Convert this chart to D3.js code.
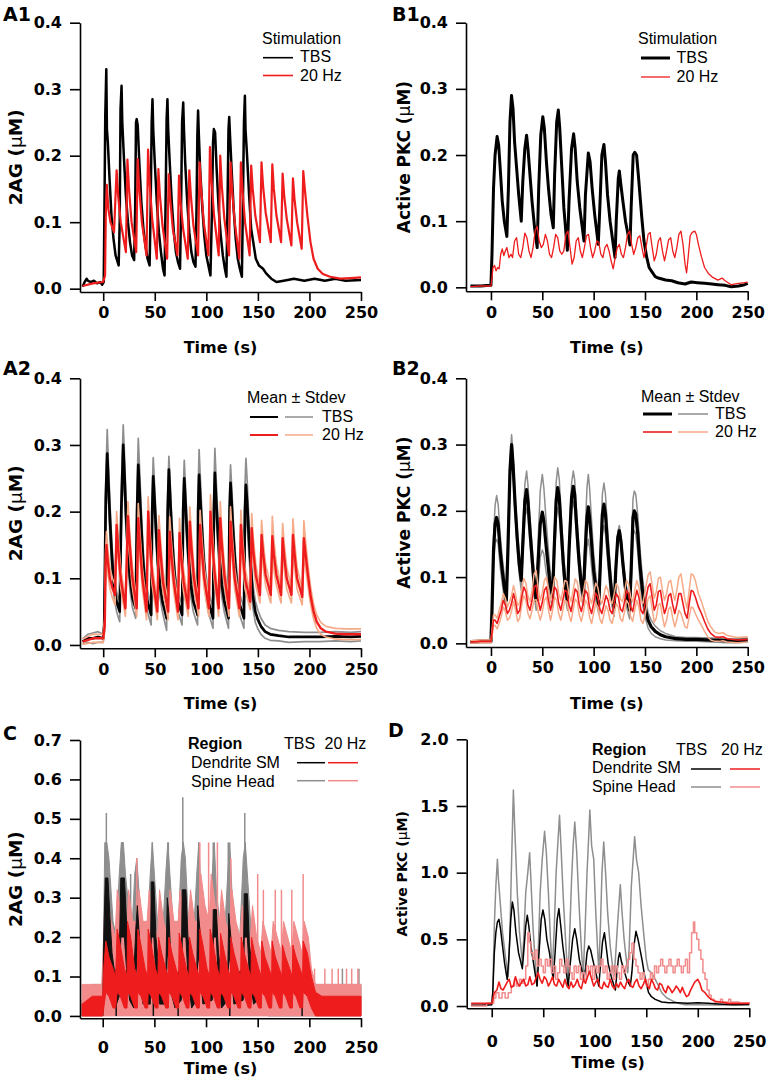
<!DOCTYPE html>
<html>
<head>
<meta charset='utf-8'>
<title>2AG and PKC responses</title>
<script src='https://cdn.jsdelivr.net/npm/d3@7'></script>
<style>
  body { margin: 0; background: #fff; }
  svg { display: block; }
</style>
</head>
<body>
<svg width='769' height='1079'></svg>
<script>
// ---------- data ----------
const timeTicks = [0, 50, 100, 150, 200, 250]
const ticksConc = [0, 0.1, 0.2, 0.3, 0.4]
const ticksC = [0, 0.1, 0.2, 0.3, 0.4, 0.5, 0.6, 0.7]
const ticksD = [0, 0.5, 1.0, 1.5, 2.0]

// A1: 2AG, single trials [t, value]
const a1TBS = [[-20,0.003],[-18,0.01],[-16,0.015],[-15,0.012],[-12,0.01],[-9,0.012],[-6,0.008],[-3,0.01],[-1,0.006],[0.5,0.01],
  [1.2,0.12],[2,0.26],[3,0.33],[3.6,0.24],[4.5,0.22],[6,0.17],[8,0.11],[10,0.075],[12,0.05],[15,0.035],
  [16,0.1],[16.8,0.27],[17.8,0.305],[18.5,0.25],[20,0.2],[22,0.14],[24,0.1],[26,0.07],[28,0.05],[30,0.043],
  [31,0.12],[31.8,0.25],[32.5,0.255],[33.5,0.245],[35,0.19],[37,0.13],[39,0.09],[41,0.065],[43,0.045],[45,0.035],
  [46,0.12],[47,0.25],[47.8,0.285],[48.5,0.24],[50,0.19],[52,0.13],[54,0.085],[56,0.055],[58,0.03],[59.5,0.02],
  [60.5,0.13],[61.5,0.255],[62.3,0.285],[63,0.24],[64.5,0.19],[66.5,0.13],[68.5,0.085],[70.5,0.055],[72.5,0.04],[74.5,0.03],
  [75.5,0.12],[76.5,0.25],[77.6,0.28],[78.3,0.24],[79.5,0.19],[81.5,0.13],[83.5,0.085],[85.5,0.055],[87.5,0.04],[89.5,0.033],
  [90.5,0.12],[91.3,0.23],[92,0.268],[92.8,0.23],[94,0.18],[96,0.125],[98,0.08],[100,0.05],[102,0.035],[104,0.02],
  [105.5,0.12],[106.5,0.22],[107.3,0.24],[108.5,0.235],[110,0.18],[112,0.12],[114,0.08],[116,0.05],[118,0.03],[119.5,0.018],
  [120.5,0.12],[121.5,0.24],[122.2,0.258],[123,0.23],[124.5,0.18],[126.5,0.12],[128.5,0.075],[130.5,0.045],[132.5,0.03],[134.5,0.018],
  [135.5,0.13],[136.5,0.25],[137.4,0.29],[138,0.24],[139.5,0.2],[141.5,0.14],[143.5,0.09],[145.5,0.07],[148,0.045],[151,0.035],
  [155,0.03],[158,0.023],[163,0.015],[168,0.01],[175,0.012],[185,0.015],[195,0.012],[205,0.015],[215,0.012],[225,0.015],[235,0.012],[250,0.013]]

const a1Hz20 = [[-20,0.004],[-10,0.008],[0,0.01],[1.8,0.02],[2.5,0.11],[3.5,0.156],[5,0.12],[7,0.1],[10.5,0.085],
  [13,0.178],[14.5,0.14],[17,0.1],[22,0.055],
  [23.5,0.194],[25,0.15],[27.5,0.1],[32,0.055],
  [33.5,0.195],[35,0.15],[37.5,0.1],[42,0.05],
  [43.5,0.209],[45,0.16],[47.5,0.105],[52,0.045],
  [53.5,0.18],[55,0.14],[57.5,0.095],[62,0.045],
  [63.5,0.172],[65,0.135],[67.5,0.09],[72,0.05],
  [73.5,0.17],[75,0.13],[77.5,0.09],[82,0.045],
  [83.5,0.178],[85,0.14],[87.5,0.095],[92,0.05],
  [93.5,0.19],[95,0.15],[97.5,0.1],[102,0.05],
  [103.5,0.213],[105,0.165],[107.5,0.11],[112,0.05],
  [113.5,0.2],[115,0.155],[117.5,0.105],[122,0.05],
  [123.5,0.19],[125,0.15],[127.5,0.1],[132,0.045],
  [133.5,0.19],[135,0.15],[137.5,0.1],[142,0.05],
  [143.5,0.185],[145,0.15],[147.5,0.11],[152,0.07],
  [153.5,0.19],[155,0.155],[157.5,0.115],[162.5,0.07],
  [164,0.187],[165.5,0.15],[168,0.11],[172.5,0.07],
  [174,0.173],[175.5,0.14],[178,0.105],[182.5,0.065],
  [184,0.166],[185.5,0.135],[188,0.1],[192.5,0.06],
  [194,0.177],[195.5,0.15],[198,0.11],[201,0.07],[204,0.045],[208,0.03],[213,0.022],[220,0.018],[230,0.015],[240,0.016],[250,0.017]]

// B1: active PKC, single trials [t, value]
const b1TBS = [[-20,0.002],[-10,0.002],[-1,0.003],[0,0.003],[1,0.05],[2.5,0.15],[4,0.2],[6,0.228],[7.5,0.215],[9,0.18],[11,0.13],[13,0.1],[15.5,0.077],
  [17,0.15],[18.5,0.25],[20,0.29],[21.5,0.27],[23,0.22],[25,0.18],[27,0.14],[29.5,0.1],
  [31,0.16],[33,0.21],[34.7,0.23],[36,0.21],[38,0.17],[40,0.13],[42.5,0.09],[45,0.06],
  [46.5,0.15],[48.5,0.23],[50.5,0.258],[52,0.24],[54,0.19],[56,0.15],[58.5,0.11],[60.7,0.09],
  [62,0.17],[64,0.25],[65.6,0.268],[67,0.24],[69,0.18],[71,0.12],[74.4,0.056],
  [76,0.13],[78.5,0.21],[80.5,0.232],[82,0.21],[84,0.16],[86.5,0.12],[90.6,0.07],
  [92,0.14],[94.8,0.203],[96.5,0.19],[98.5,0.15],[101,0.11],[104.5,0.065],
  [106,0.12],[108,0.2],[110,0.216],[111.5,0.19],[113.5,0.14],[116,0.1],[120.8,0.045],
  [122,0.1],[124,0.165],[125,0.176],[126.5,0.155],[128.5,0.13],[131,0.1],[135.4,0.064],
  [136.5,0.12],[138.5,0.2],[140,0.204],[141.8,0.2],[143.5,0.17],[146.8,0.107],[149,0.07],[151.6,0.046],[154,0.03],[156.5,0.024],
  [160,0.016],[163,0.014],[170,0.011],[176,0.01],[182,0.007],[189,0.005],[195,0.008],[201,0.007],[208,0.006],[215,0.005],[221,0.004],[228,0.003],[234,0.001],[241,0.002],[247,0.004],[250,0.006]]

const b1Hz20 = [[-20,0.001],[-10,0.002],[0,0.002],[1,0.015],[2,0.03],[3.5,0.033],[5,0.025],[6.5,0.03],[8,0.028],[9.5,0.05],[11,0.058],[12.5,0.048],[14,0.055],[15.5,0.06],[17.5,0.045],[19.5,0.05],
  [21,0.045],[23,0.07],[25,0.075],[27,0.05],[29,0.045],[31,0.06],[33,0.082],[35,0.075],[37,0.055],[39,0.045],[41,0.06],[43,0.085],[45,0.092],[47,0.07],[49,0.06],
  [51,0.065],[53,0.08],[55,0.07],[57,0.05],[59,0.045],[61,0.06],[63,0.08],[65,0.075],[67,0.055],[69,0.05],[71,0.055],[73,0.08],[75,0.085],[77,0.06],[79,0.035],
  [81,0.045],[83,0.07],[85,0.075],[87,0.055],[89,0.045],[91,0.06],[93,0.078],[95,0.08],[97,0.06],[99,0.045],[101,0.055],[103,0.07],[105,0.068],[107,0.05],[109,0.045],
  [111,0.06],[113,0.065],[115,0.055],[117,0.04],[119,0.028],[121,0.045],[123,0.06],[125,0.065],[127,0.05],[129,0.045],[131,0.06],[133,0.08],[135,0.085],[137,0.065],[139,0.05],
  [141,0.06],[143,0.075],[145,0.078],[147,0.06],[149,0.045],[151,0.06],[153,0.08],[155,0.083],[157,0.06],[159,0.04],[161,0.05],[163,0.07],[165,0.075],[167,0.055],[169,0.04],
  [171,0.055],[173,0.072],[175,0.075],[177,0.055],[179,0.045],[181,0.06],[183,0.08],[185,0.085],[187,0.065],[189,0.035],[190.5,0.022],[192,0.045],[194,0.078],[196,0.083],[198.5,0.085],
  [200,0.08],[202,0.065],[205,0.046],[208,0.03],[211.7,0.021],[216,0.015],[221,0.011],[225,0.014],[228,0.01],[234,0.004],[241,0.006],[247,0.007],[250,0.008]]

// A2: 2AG mean and stdev [t, mean, sd]
const a2TBS = [[-20,0.005,0.004],[-15,0.01,0.006],[-10,0.01,0.008],[-5,0.012,0.008],[0,0.01,0.006],[1,0.03,0.01],
  [2.5,0.22,0.025],[3.9,0.287,0.036],[5,0.245,0.03],[6.5,0.19,0.025],[8.5,0.13,0.02],[10.5,0.09,0.017],[13,0.065,0.015],[16,0.05,0.015],
  [17.5,0.2,0.03],[19.4,0.3,0.03],[20.5,0.26,0.03],[22,0.2,0.025],[24,0.14,0.02],[26,0.1,0.018],[28.5,0.07,0.015],[31.5,0.055,0.015],
  [32.8,0.2,0.03],[34,0.27,0.04],[35,0.24,0.035],[36.5,0.19,0.028],[38.5,0.13,0.02],[40.5,0.09,0.018],[43,0.065,0.016],[46.5,0.045,0.015],
  [47.5,0.2,0.025],[48.5,0.253,0.028],[49.5,0.225,0.025],[51,0.18,0.022],[53,0.125,0.02],[55,0.09,0.018],[57.5,0.065,0.016],[61.5,0.04,0.018],
  [62.5,0.2,0.02],[63.7,0.263,0.02],[64.7,0.23,0.02],[66,0.185,0.02],[68,0.13,0.018],[70,0.09,0.016],[72.5,0.065,0.015],[76.5,0.045,0.015],
  [77.5,0.2,0.025],[78.6,0.25,0.027],[79.6,0.22,0.025],[81,0.175,0.022],[83,0.125,0.02],[85,0.09,0.018],[87.5,0.065,0.016],[91.5,0.045,0.015],
  [92,0.2,0.03],[93,0.255,0.038],[94,0.225,0.032],[95.5,0.18,0.026],[97.5,0.125,0.02],[99.5,0.09,0.018],[102,0.065,0.016],[106.5,0.04,0.015],
  [107.3,0.2,0.03],[108.3,0.258,0.037],[109.3,0.225,0.032],[111,0.175,0.025],[113,0.125,0.02],[115,0.09,0.018],[117.5,0.065,0.016],[121.5,0.04,0.015],
  [122.5,0.2,0.025],[123.5,0.243,0.027],[124.5,0.215,0.025],[126,0.17,0.022],[128,0.12,0.02],[130,0.085,0.018],[132.5,0.06,0.016],[136.5,0.04,0.015],
  [137.4,0.2,0.035],[138.4,0.24,0.04],[139.5,0.215,0.035],[141,0.17,0.028],[143,0.12,0.022],[145,0.075,0.018],[147.5,0.05,0.016],[150,0.038,0.014],
  [153,0.028,0.012],[157,0.02,0.01],[162,0.016,0.009],[170,0.014,0.008],[180,0.012,0.008],[195,0.012,0.007],[210,0.012,0.007],[225,0.013,0.007],[240,0.012,0.007],[250,0.013,0.007]]

const a2Hz20 = [[-20,0.005,0.004],[-10,0.01,0.006],[0,0.01,0.006],[1.5,0.03,0.01],[2.3,0.12,0.02],[3.2,0.15,0.02],[4.5,0.125,0.018],[6.5,0.1,0.015],[9,0.085,0.015],[11.5,0.075,0.015],
  [13,0.18,0.02],[14.5,0.145,0.018],[17,0.1,0.015],[21.5,0.055,0.012],
  [24,0.193,0.022],[25.5,0.155,0.02],[28,0.105,0.016],[32.5,0.055,0.012],
  [34,0.19,0.022],[35.5,0.152,0.02],[38,0.1,0.016],[42,0.05,0.012],
  [43.6,0.2,0.022],[45,0.16,0.02],[47.5,0.105,0.016],[52.5,0.05,0.012],
  [54,0.172,0.022],[55.5,0.14,0.02],[58,0.095,0.016],[63,0.05,0.012],
  [64.5,0.17,0.022],[66,0.138,0.02],[68.5,0.095,0.016],[72.5,0.05,0.012],
  [74,0.168,0.022],[75.5,0.135,0.02],[78,0.095,0.016],[82.5,0.055,0.012],
  [84,0.185,0.022],[85.5,0.148,0.02],[88,0.1,0.016],[92.5,0.055,0.012],
  [94,0.18,0.022],[95.5,0.145,0.02],[98,0.1,0.016],[102.5,0.055,0.012],
  [104,0.2,0.025],[105.5,0.16,0.02],[108,0.108,0.016],[112,0.055,0.012],
  [113.5,0.19,0.025],[115,0.152,0.02],[117.5,0.105,0.016],[122,0.055,0.012],
  [123.5,0.185,0.022],[125,0.148,0.02],[127.5,0.1,0.016],[132,0.055,0.012],
  [133.5,0.18,0.022],[135,0.145,0.02],[137.5,0.1,0.016],[142.5,0.065,0.012],
  [144,0.175,0.022],[145.5,0.142,0.02],[148,0.105,0.016],[152,0.075,0.012],
  [153.6,0.165,0.022],[155,0.138,0.02],[157.5,0.105,0.016],[162.5,0.075,0.012],
  [164,0.163,0.03],[165.5,0.135,0.022],[168,0.105,0.016],[172.5,0.075,0.012],
  [174,0.16,0.022],[175.5,0.133,0.02],[178,0.1,0.016],[182.5,0.075,0.012],
  [184,0.165,0.024],[185.5,0.137,0.02],[188,0.1,0.016],[193,0.072,0.012],
  [194.6,0.16,0.026],[196,0.14,0.02],[198.5,0.105,0.016],[201,0.075,0.013],[204,0.05,0.011],[207,0.035,0.01],[211,0.025,0.009],[216,0.02,0.008],[225,0.017,0.008],[235,0.016,0.008],[250,0.016,0.008]]

// B2: active PKC mean and stdev [t, mean, sd]
const b2TBS = [[-20,0.002,0.002],[-10,0.003,0.002],[0,0.003,0.002],[1,0.05,0.01],[2.5,0.14,0.02],[4,0.18,0.028],[5.5,0.19,0.033],[7,0.18,0.03],[9,0.14,0.025],[11,0.11,0.02],[13,0.085,0.018],[15,0.065,0.015],
  [16.5,0.14,0.015],[18.5,0.26,0.015],[20.1,0.3,0.015],[21.5,0.27,0.015],[23.5,0.21,0.015],[25.5,0.16,0.015],[27.5,0.12,0.015],[29.5,0.095,0.015],
  [31,0.15,0.02],[33,0.215,0.025],[34.7,0.232,0.028],[36,0.215,0.025],[38,0.17,0.02],[40,0.13,0.018],[42,0.09,0.016],[44,0.065,0.015],
  [45.5,0.11,0.03],[48,0.18,0.05],[50,0.198,0.057],[51.5,0.185,0.05],[53.5,0.15,0.04],[55.5,0.12,0.03],[57.5,0.09,0.022],[60,0.07,0.015],
  [61.5,0.14,0.02],[63.5,0.215,0.028],[65,0.235,0.03],[66.5,0.22,0.028],[68.5,0.17,0.022],[70.5,0.12,0.018],[72.5,0.085,0.016],[74.5,0.065,0.015],
  [76,0.14,0.018],[78.5,0.22,0.022],[80.2,0.237,0.023],[81.5,0.225,0.022],[83.5,0.175,0.02],[85.5,0.13,0.018],[87.5,0.095,0.016],[90,0.072,0.015],
  [91.5,0.13,0.03],[93.5,0.19,0.045],[94.8,0.206,0.049],[96,0.19,0.045],[98,0.15,0.035],[100,0.11,0.025],[102.5,0.08,0.018],[105,0.058,0.014],
  [106.5,0.12,0.02],[108.5,0.195,0.03],[110,0.21,0.032],[111.5,0.195,0.03],[113.5,0.15,0.025],[115.5,0.11,0.02],[117.5,0.075,0.016],[120,0.055,0.014],
  [121.5,0.11,0.008],[123.5,0.16,0.008],[125,0.17,0.008],[126.5,0.155,0.008],[128.5,0.12,0.01],[130.5,0.09,0.012],[132.5,0.065,0.013],[135,0.05,0.013],
  [136.5,0.11,0.02],[138.3,0.19,0.028],[139.6,0.2,0.03],[141,0.195,0.03],[143,0.165,0.028],[145,0.12,0.025],[147.5,0.08,0.02],[150,0.055,0.015],
  [153,0.035,0.012],[156,0.025,0.01],[160,0.018,0.008],[165,0.013,0.006],[170,0.01,0.005],[180,0.007,0.003],[190,0.006,0.003],[200,0.006,0.003],[215,0.005,0.003],[230,0.004,0.003],[240,0.004,0.003],[250,0.005,0.003]]

const b2Hz20 = [[-20,0.002,0.002],[-10,0.003,0.002],[0,0.003,0.002],[1,0.015,0.005],[2.5,0.035,0.008],[4,0.035,0.008],[6,0.03,0.008],[8,0.04,0.01],[10,0.05,0.01],[12,0.065,0.01],[14,0.058,0.01],[16,0.045,0.01],[18,0.05,0.012],
  [20,0.06,0.012],[22,0.075,0.012],[24,0.062,0.012],[26,0.045,0.012],[28,0.05,0.012],[30,0.07,0.012],[32,0.085,0.013],[34,0.078,0.013],[36,0.058,0.013],[38,0.05,0.013],
  [40,0.065,0.015],[42,0.085,0.02],[44,0.088,0.022],[46,0.065,0.018],[48,0.05,0.015],[50,0.062,0.015],[52,0.08,0.015],[54,0.085,0.015],[56,0.065,0.015],[58,0.05,0.015],
  [60,0.065,0.015],[62,0.085,0.015],[64,0.08,0.015],[66,0.06,0.015],[68,0.05,0.015],[70,0.065,0.015],[72,0.08,0.015],[74,0.078,0.015],[76,0.058,0.015],[78,0.048,0.015],
  [80,0.065,0.015],[82,0.082,0.015],[84,0.078,0.015],[86,0.058,0.015],[88,0.048,0.015],[90,0.062,0.015],[92,0.08,0.015],[94,0.075,0.015],[96,0.055,0.015],[98,0.045,0.015],
  [100,0.06,0.015],[102,0.076,0.015],[104,0.07,0.015],[106,0.052,0.015],[108,0.045,0.015],[110,0.058,0.015],[112,0.072,0.015],[114,0.065,0.015],[116,0.05,0.015],[118,0.045,0.015],
  [120,0.06,0.015],[122,0.075,0.015],[124,0.07,0.015],[126,0.052,0.015],[128,0.048,0.015],[130,0.062,0.015],[132,0.08,0.015],[134,0.075,0.015],[136,0.055,0.015],[138,0.048,0.015],
  [140,0.065,0.015],[142,0.08,0.015],[144,0.07,0.015],[146,0.05,0.015],[148,0.045,0.015],[150,0.06,0.018],[153,0.085,0.018],[155,0.09,0.018],[157,0.07,0.018],[159,0.05,0.018],
  [161,0.058,0.02],[163,0.078,0.02],[165,0.08,0.02],[167,0.06,0.02],[169,0.045,0.02],[171,0.055,0.02],[173,0.072,0.02],[175,0.075,0.02],[177,0.058,0.02],[179,0.045,0.02],
  [181,0.058,0.022],[183,0.075,0.025],[185,0.075,0.03],[187,0.06,0.025],[189,0.045,0.02],[191,0.038,0.015],[193,0.06,0.02],[195,0.08,0.025],[197,0.078,0.025],[199,0.07,0.025],
  [202,0.055,0.02],[205,0.045,0.018],[208,0.033,0.015],[211,0.022,0.012],[214,0.015,0.01],[218,0.01,0.007],[222,0.009,0.006],[226,0.01,0.006],[230,0.007,0.005],[240,0.005,0.004],[250,0.006,0.004]]

// C: 2AG by region, spread of the noisy traces [t, low, high]
const cTBSSpine = [[-20,0,0.04],[-10,0,0.08],[0,0,0.08],[1,0.04,0.24],[2,0.16,0.44],[4,0.2,0.44],[6,0.16,0.4],[8,0.1,0.32],[10,0.06,0.24],[13,0.04,0.2],
  [16,0.08,0.36],[18,0.2,0.44],[20,0.2,0.44],[22,0.12,0.36],[25,0.06,0.28],[28,0.04,0.2],[31,0.1,0.36],[33,0.16,0.4],[35,0.12,0.32],[38,0.06,0.24],[42,0.04,0.16],
  [46,0.12,0.36],[48,0.2,0.44],[50,0.14,0.36],[53,0.06,0.24],[57,0.04,0.16],[61,0.12,0.36],[63,0.2,0.44],[65,0.14,0.36],[68,0.06,0.24],[72,0.04,0.16],
  [76,0.14,0.4],[78,0.2,0.44],[80,0.16,0.4],[83,0.06,0.24],[87,0.04,0.16],[91,0.12,0.36],[93,0.18,0.44],[95,0.12,0.32],[98,0.06,0.24],[102,0.04,0.16],
  [106,0.12,0.36],[108,0.18,0.44],[110,0.12,0.32],[113,0.06,0.24],[117,0.04,0.16],[121,0.12,0.36],[123,0.18,0.44],[125,0.12,0.32],[128,0.06,0.24],[132,0.04,0.16],
  [136,0.14,0.4],[138,0.2,0.44],[140,0.14,0.36],[143,0.08,0.24],[147,0.04,0.16],[152,0.02,0.12],[160,0,0.08],[250,0,0.08]]
const cTBSSpineSpikes = [[3.5,0.3,0.515],[19,0.3,0.44],[27,0.2,0.36],[33,0.2,0.36],[48,0.3,0.44],[63.5,0.3,0.44],[77.5,0.3,0.555],[93,0.3,0.44],
  [107,0.3,0.44],[121.5,0.3,0.44],[137.5,0.3,0.515],[168,0.04,0.12],[200,0.04,0.12],[232,0.04,0.12],[248,0.04,0.12]]
const cHzSpine = [[-20,0,0.08],[-1,0,0.08],[1,0,0.2],[3,0,0.32],[8,0,0.24],[12,0,0.2],[14,0,0.32],[19,0,0.24],[23,0,0.2],[25,0,0.32],[29,0,0.24],
  [33,0,0.24],[35,0,0.32],[39,0,0.24],[43,0,0.24],[45,0,0.32],[49,0,0.24],[53,0,0.2],[55,0,0.32],[59,0,0.24],[63,0,0.2],[65,0,0.32],[69,0,0.24],
  [73,0,0.24],[75,0,0.32],[79,0,0.24],[83,0,0.24],[85,0,0.32],[89,0,0.24],[93,0,0.24],[95,0,0.36],[99,0,0.28],[103,0,0.24],[105,0,0.36],[109,0,0.28],
  [113,0,0.24],[115,0,0.32],[119,0,0.24],[123,0,0.2],[125,0,0.32],[129,0,0.24],[133,0,0.2],[135,0,0.28],[139,0,0.2],[143,0,0.2],[145,0,0.28],[149,0,0.2],
  [153,0,0.16],[155,0,0.24],[159,0,0.2],[163,0,0.16],[165,0,0.24],[169,0,0.2],[173,0,0.16],[175,0,0.24],[179,0,0.2],[183,0,0.16],[185,0,0.24],
  [189,0,0.2],[193,0,0.16],[195,0,0.24],[199,0,0.2],[202,0,0.12],[206,0,0.08],[250,0,0.08]]
const cHzSpineSpikes = [[33,0.2,0.4],[94,0.2,0.44],[102.5,0.2,0.44],[111,0.2,0.44],[124,0.2,0.4],[150,0.1,0.36],[155.5,0.1,0.32],[167,0.1,0.32],[173,0.1,0.32],
  [183,0.1,0.32],[194,0.1,0.36],[205,0,0.12],[215,0,0.12],[222,0,0.12],[228,0,0.12],[236,0,0.12],[241,0,0.12],[247,0,0.12]]
const cTBSDend = [[0,0,0],[1,0.05,0.2],[2.5,0.16,0.35],[5,0.16,0.35],[7,0.12,0.25],[9,0.05,0.16],[12,0.02,0.1],[16,0.05,0.15],[17.5,0.2,0.35],[21,0.2,0.35],
  [23,0.12,0.24],[26,0.04,0.14],[30,0.02,0.1],[32,0.1,0.22],[33.5,0.16,0.28],[35.5,0.1,0.2],[39,0.03,0.1],[46,0.03,0.1],[47,0.2,0.34],[49.5,0.2,0.34],[51.5,0.1,0.2],
  [55,0.03,0.1],[61,0.03,0.1],[62.5,0.16,0.3],[64,0.14,0.26],[66,0.06,0.14],[70,0.02,0.1],[76,0.04,0.12],[77,0.2,0.32],[80.5,0.2,0.32],[82.5,0.1,0.2],[86,0.02,0.1],
  [91,0.04,0.1],[92,0.16,0.28],[94,0.12,0.22],[97,0.03,0.1],[106,0.04,0.1],[107,0.2,0.27],[110,0.2,0.27],[112,0.08,0.16],[115,0.02,0.1],[121,0.04,0.1],[122,0.16,0.26],
  [124,0.12,0.2],[127,0.03,0.1],[136,0.04,0.12],[137,0.2,0.31],[140,0.2,0.31],[142,0.1,0.18],[146,0.03,0.1],[150,0.04,0.06]]
const cTBSDendSpikes = [[13,0,0.12],[49,0,0.08],[73,0,0.06],[123,0,0.08],[193,0,0.05]]
const cHzDend = [[-20,0,0.03],[-10,0,0.05],[0,0,0.05],[1,0.02,0.12],
  [3,0.06,0.19],[6,0.05,0.15],[10,0.02,0.12],[12.5,0.02,0.1],
  [14,0.06,0.22],[17,0.05,0.18],[21,0.02,0.12],[23.5,0.02,0.1],
  [24,0.06,0.24],[27,0.05,0.2],[31,0.02,0.12],[33.5,0.02,0.1],
  [34,0.06,0.22],[37,0.05,0.18],[41,0.02,0.12],[43.5,0.02,0.1],
  [44,0.06,0.22],[47,0.05,0.18],[51,0.02,0.12],[53.5,0.02,0.1],
  [54,0.06,0.2],[57,0.05,0.16],[61,0.02,0.12],[63.5,0.02,0.1],
  [64,0.06,0.2],[67,0.05,0.16],[71,0.02,0.12],[73.5,0.02,0.1],
  [74,0.06,0.21],[77,0.05,0.17],[81,0.02,0.12],[83.5,0.02,0.1],
  [84,0.06,0.2],[87,0.05,0.16],[91,0.02,0.12],[93.5,0.02,0.1],
  [94,0.06,0.22],[97,0.05,0.18],[101,0.02,0.12],[103.5,0.02,0.1],
  [104,0.06,0.22],[107,0.05,0.18],[111,0.02,0.12],[113.5,0.02,0.1],
  [114,0.06,0.21],[117,0.05,0.17],[121,0.02,0.12],[123.5,0.02,0.1],
  [124,0.06,0.2],[127,0.05,0.16],[131,0.02,0.12],[133.5,0.02,0.1],
  [134,0.06,0.2],[137,0.05,0.16],[141,0.02,0.12],[143.5,0.02,0.1],
  [144,0.06,0.2],[147,0.05,0.16],[151,0.02,0.12],[153.5,0.02,0.1],
  [154,0.06,0.19],[157,0.05,0.15],[161,0.02,0.12],[163.5,0.02,0.1],
  [164,0.06,0.19],[167,0.05,0.15],[171,0.02,0.12],[173.5,0.02,0.1],
  [174,0.06,0.18],[177,0.05,0.15],[181,0.02,0.12],[183.5,0.02,0.1],
  [184,0.06,0.18],[187,0.05,0.15],[191,0.02,0.12],[193.5,0.02,0.1],
  [194,0.06,0.19],[198,0.05,0.16],[202,0.02,0.1],[206,0,0.06],[212,0,0.05],[250,0,0.05]]

// D: active PKC by region [t, value]
const dTBSSpine = [[-20,0.005],[-10,0.005],[0,0.01],[1,0.1],[2.5,0.6],[4,0.9],[5.5,1.1],[6.5,0.95],[8.5,0.75],[10.5,0.55],[13.5,0.36],[16,0.22],
  [17.5,0.5],[19,1.0],[21,1.62],[22.5,1.3],[24.8,0.85],[27,0.55],[29.7,0.32],[31,0.5],[33,0.85],[35,1.0],[36.8,1.15],[38,0.95],[40,0.6],[42,0.35],[44,0.15],
  [45.5,0.5],[47,0.85],[49,1.1],[51.3,1.31],[53,1.15],[55,0.85],[57,0.5],[58.7,0.25],[60.5,0.55],[62.5,1.0],[64,1.2],[65.8,1.43],[67.5,1.15],[69.5,0.8],[72,0.45],[74,0.2],
  [75.5,0.5],[77.5,0.95],[79,1.2],[80.6,1.38],[82.5,1.15],[84.5,0.8],[86.5,0.5],[88.7,0.22],[90.5,0.55],[92.5,1.0],[94,1.25],[95.2,1.47],[97,1.2],[99,1.1],[101,0.7],[103.9,0.25],
  [105.5,0.6],[107,1.0],[108.7,1.23],[110.5,1.0],[112.5,0.7],[115,0.45],[118.4,0.22],[120,0.35],[122,0.6],[124.8,0.91],[126.5,0.7],[128.5,0.5],[132,0.25],
  [133.5,0.45],[135.5,0.9],[138.7,1.27],[140.5,1.1],[142.6,1.0],[145,0.75],[147.4,0.55],[150,0.35],[152,0.27],[155,0.25],[158.7,0.2],[162,0.15],[165,0.1],[170,0.06],
  [175,0.04],[181,0.02],[187.7,0.01],[200,0.01],[220,0.008],[250,0.01]]
const dTBSDend = [[-20,0.005],[-10,0.005],[0,0.01],[1,0.1],[2.5,0.4],[4,0.55],[5.5,0.63],[7,0.65],[8.5,0.58],[10.5,0.45],[12.5,0.32],[15,0.2],
  [16.5,0.35],[18.5,0.65],[20,0.78],[21.5,0.72],[23.5,0.55],[26,0.4],[29.7,0.28],[31.5,0.45],[33,0.6],[34.5,0.68],[36,0.6],[38,0.45],[41,0.3],[44,0.15],
  [45.5,0.35],[48,0.65],[49.7,0.72],[51.5,0.65],[53.5,0.5],[56,0.4],[59.7,0.2],[61.5,0.4],[63.5,0.65],[65.2,0.73],[67,0.6],[69,0.45],[71.5,0.3],[74.2,0.15],
  [76,0.3],[78.5,0.5],[80.6,0.58],[82.5,0.5],[85,0.35],[89.4,0.2],[91,0.28],[92.5,0.4],[94.2,0.45],[96,0.42],[98,0.35],[101,0.25],[103.9,0.15],
  [105.5,0.3],[107.5,0.48],[109.4,0.55],[111,0.45],[113,0.32],[116,0.22],[120,0.12],[121.5,0.25],[123,0.36],[124.2,0.4],[126,0.33],[128,0.28],[131,0.2],[134.5,0.15],
  [136,0.25],[138,0.45],[140,0.56],[142,0.5],[145.8,0.35],[149,0.2],[152.3,0.1],[155,0.07],[158.7,0.05],[165,0.03],[172,0.025],[180,0.025],[190,0.02],[200,0.025],
  [210,0.02],[220,0.015],[235,0.01],[250,0.012]]
const dHzDend = [[-20,0.02],[-10,0.02],[0,0.02],[1,0.05],[2.5,0.1],[5,0.12],[7,0.18],[9,0.13],[11,0.12],[13,0.15],[15,0.18],[17,0.2],[19,0.14],[21,0.15],[23,0.22],
  [25,0.17],[27,0.15],[29,0.18],[31,0.2],[33,0.15],[35,0.16],[37,0.22],[39,0.16],[41,0.17],[43,0.21],[45,0.25],[47,0.2],[49,0.17],[51,0.22],[53,0.2],[55,0.15],
  [57,0.18],[59,0.22],[61,0.16],[63,0.15],[65,0.2],[67,0.17],[69,0.14],[71,0.2],[73,0.15],[75,0.13],[77,0.18],[79,0.14],[81,0.16],[83,0.2],[85,0.15],[87,0.13],
  [89,0.2],[91,0.17],[93,0.22],[95,0.26],[97,0.2],[99,0.15],[101,0.18],[103,0.2],[105,0.14],[107,0.13],[109,0.18],[111,0.15],[113,0.14],[115,0.2],[117,0.15],
  [119,0.13],[121,0.17],[123,0.14],[125,0.18],[127,0.15],[129,0.13],[131,0.18],[133,0.2],[135,0.15],[137,0.14],[139,0.18],[141,0.2],[143,0.15],[145,0.13],
  [147,0.16],[149,0.2],[151,0.15],[153,0.13],[155,0.2],[157,0.17],[159,0.13],[161,0.12],[163,0.17],[165,0.16],[167,0.12],[169,0.1],[171,0.15],[173,0.13],
  [175,0.1],[177,0.12],[179,0.15],[181,0.13],[183,0.1],[185,0.14],[187,0.1],[189,0.07],[191,0.08],[193,0.12],[195,0.15],[197,0.18],[200,0.2],[202,0.17],
  [204,0.12],[207,0.1],[210,0.07],[213,0.05],[217,0.035],[222,0.03],[230,0.02],[240,0.02],[250,0.02]]
const dHzSpine = [[-20,0],[-5,0.02],[0,0.02],[2,0.06],[4,0.1],[7,0.06],[10,0.1],[13,0.06],[16,0.1],[19,0.15],[22,0.2],[24,0.15],[27,0.2],[29,0.17],[31,0.2],
  [33,0.3],[35,0.55],[36.5,0.48],[38,0.4],[40,0.35],[42,0.42],[44,0.3],[46,0.35],[48,0.3],[50,0.25],[52,0.35],[54,0.3],[56,0.35],[58,0.25],[60,0.3],[62,0.2],
  [64,0.25],[66,0.35],[68,0.3],[70,0.25],[72,0.35],[74,0.3],[76,0.25],[78,0.2],[80,0.3],[82,0.25],[84,0.3],[86,0.2],[88,0.25],[90,0.2],[92,0.3],[94,0.25],
  [96,0.3],[98,0.2],[100,0.3],[102,0.25],[104,0.3],[106,0.35],[108,0.25],[110,0.3],[112,0.2],[114,0.25],[116,0.3],[118,0.2],[120,0.3],[122,0.25],[124,0.2],
  [126,0.3],[128,0.25],[130,0.3],[132,0.35],[134,0.4],[136,0.47],[138,0.35],[140,0.3],[142,0.25],[144,0.2],[146,0.25],[148,0.2],[150,0.15],[152,0.2],[154,0.25],
  [156,0.2],[158,0.3],[160,0.25],[162,0.3],[164,0.35],[166,0.3],[168,0.25],[170,0.3],[172,0.35],[174,0.3],[176,0.25],[178,0.3],[180,0.35],[182,0.3],[184,0.25],
  [186,0.3],[188,0.35],[190,0.25],[192,0.4],[194,0.55],[195.8,0.63],[197,0.55],[199,0.5],[201,0.42],[203,0.35],[205,0.25],[207,0.2],[209,0.12],[211,0.08],
  [213,0.05],[216,0.03],[222,0.05],[224,0.03],[230,0.05],[232,0.03],[240,0.02],[250,0.03]]

// ---------- drawing ----------
const svg = d3.select('svg')
const AX_FONT = "'DejaVu Sans', sans-serif"
const LEG_FONT = "'Liberation Sans', Arial, sans-serif"
const RED = '#ee1c1c', GREY = '#8e8e8e', SALMON = '#f6aa88', PINK = '#f28c8c'

function makePanel(p) {
  const x = d3.scaleLinear().domain(p.xd).range(p.xr)
  const y = d3.scaleLinear().domain(p.yd).range(p.yr)
  const g = svg.append('g')
  const plot = g.append('g')
  const xa = g.append('g').attr('transform', `translate(0,${p.yr[0]})`)
    .call(d3.axisBottom(x).tickValues(timeTicks).tickSize(9).tickSizeOuter(0).tickPadding(p.xpad).tickFormat(d3.format('d')))
  const ya = g.append('g').attr('transform', `translate(${p.xr[0]},0)`)
    .call(d3.axisLeft(y).tickValues(p.yticks).tickSize(10).tickSizeOuter(0).tickPadding(8).tickFormat(d3.format('.1f')))
  ;[xa, ya].forEach(a => {
    a.attr('font-family', AX_FONT).attr('font-size', 16).attr('font-weight', 'bold')
    a.select('.domain').attr('stroke-width', 1.6)
    a.selectAll('.tick line').attr('stroke-width', 1.6)
  })
  g.append('text').attr('x', (p.xr[0] + p.xr[1]) / 2).attr('y', p.timeY)
    .attr('text-anchor', 'middle').attr('font-family', AX_FONT).attr('font-size', 16).attr('font-weight', 'bold')
    .text('Time (s)')
  const yl = g.append('text')
    .attr('transform', `translate(${p.ylx},${(p.yr[0] + p.yr[1]) / 2}) rotate(-90)`)
    .attr('text-anchor', 'middle').attr('font-family', AX_FONT).attr('font-size', p.ylSize).attr('font-weight', 'bold')
  yl.append('tspan').text(p.ylabel + ' (')
  yl.append('tspan').attr('font-weight', 'normal').text('μ')
  yl.append('tspan').text('M)')
  g.append('text').attr('x', p.letter[1]).attr('y', p.letter[2])
    .attr('font-family', AX_FONT).attr('font-size', 19).attr('font-weight', 'bold').text(p.letter[0])
  return { g: plot, root: g, x, y }
}

function trace(P, data, acc, color, width, curve) {
  P.g.append('path').datum(data)
    .attr('fill', 'none').attr('stroke', color).attr('stroke-width', width)
    .attr('stroke-linejoin', 'round')
    .attr('d', d3.line().x(d => P.x(d[0])).y(d => P.y(acc(d))).curve(curve || d3.curveLinear))
}

function band(P, data, color) {
  P.g.append('path').datum(data).attr('fill', color).attr('stroke', color).attr('stroke-width', 1)
    .attr('d', d3.area().x(d => P.x(d[0])).y0(d => P.y(d[1])).y1(d => P.y(d[2])))
}

function spikes(P, data, color) {
  P.g.selectAll(null).data(data).enter().append('line')
    .attr('x1', d => P.x(d[0])).attr('x2', d => P.x(d[0]))
    .attr('y1', d => P.y(d[1])).attr('y2', d => P.y(d[2]))
    .attr('stroke', color).attr('stroke-width', 1.5)
}

function legText(g, x, y, txt, bold) {
  g.append('text').attr('x', x).attr('y', y).attr('font-family', LEG_FONT).attr('font-size', 16)
    .attr('font-weight', bold ? 'bold' : 'normal').text(txt)
}
function legLine(g, x1, x2, y, color, w) {
  g.append('line').attr('x1', x1).attr('x2', x2).attr('y1', y).attr('y2', y).attr('stroke', color).attr('stroke-width', w)
}

const colA = { xd: [-22.5, 250], xr: [80, 361] }
const colB = { xd: [-24.3, 250], xr: [466, 747.7] }

// A1
const A1 = makePanel({ ...colA, yd: [-0.005, 0.4], yr: [292, 22.7], yticks: ticksConc, xpad: 6, timeY: 353,
  ylabel: '2AG', ylSize: 18.5, ylx: 21.5, letter: ['A1', 3, 21] })
trace(A1, a1TBS, d => d[1], '#000', 2.5)
trace(A1, a1Hz20, d => d[1], RED, 2.2)
legText(A1.root, 262, 43.5, 'Stimulation')
legLine(A1.root, 263, 293, 57.7, '#000', 1.6); legText(A1.root, 300, 62, 'TBS')
legLine(A1.root, 263, 293, 75.5, RED, 1.6); legText(A1.root, 300, 80.5, '20 Hz')

// B1
const B1 = makePanel({ ...colB, yd: [-0.006, 0.4], yr: [291.3, 22.7], yticks: ticksConc, xpad: 6, timeY: 353,
  ylabel: 'Active PKC', ylSize: 17, ylx: 409.5, letter: ['B1', 392, 21] })
trace(B1, b1TBS, d => d[1], '#000', 3)
trace(B1, b1Hz20, d => d[1], RED, 1.3)
legText(B1.root, 638, 44.3, 'Stimulation')
legLine(B1.root, 641, 670, 58, '#000', 3); legText(B1.root, 676.5, 63, 'TBS')
legLine(B1.root, 641, 670, 77, RED, 1.3); legText(B1.root, 676.5, 82, '20 Hz')

// A2
const A2 = makePanel({ ...colA, yd: [-0.005, 0.4], yr: [648.3, 378.3], yticks: ticksConc, xpad: 6, timeY: 709,
  ylabel: '2AG', ylSize: 18.5, ylx: 21.5, letter: ['A2', 3, 375] })
trace(A2, a2TBS, d => d[1] + d[2], GREY, 1.7)
trace(A2, a2TBS, d => d[1] - d[2], GREY, 1.7)
trace(A2, a2TBS, d => d[1], '#000', 2.7)
trace(A2, a2Hz20, d => d[1] + d[2], SALMON, 1.7)
trace(A2, a2Hz20, d => d[1] - d[2], SALMON, 1.7)
trace(A2, a2Hz20, d => d[1], RED, 2.4)
legText(A2.root, 247, 403, 'Mean ± Stdev')
legLine(A2.root, 250, 278, 417, '#000', 2); legLine(A2.root, 285, 313, 417, GREY, 1.5); legText(A2.root, 322, 422, 'TBS')
legLine(A2.root, 250, 278, 435, RED, 2); legLine(A2.root, 285, 313, 435, SALMON, 1.5); legText(A2.root, 322, 440, '20 Hz')

// B2
const B2 = makePanel({ ...colB, yd: [-0.0055, 0.4], yr: [647, 378.3], yticks: ticksConc, xpad: 6, timeY: 709,
  ylabel: 'Active PKC', ylSize: 17, ylx: 409.5, letter: ['B2', 392, 375] })
trace(B2, b2TBS, d => d[1] + d[2], GREY, 1.5)
trace(B2, b2TBS, d => d[1] - d[2], GREY, 1.5)
trace(B2, b2TBS, d => d[1], '#000', 3.2)
trace(B2, b2Hz20, d => d[1] + d[2], SALMON, 1.5)
trace(B2, b2Hz20, d => d[1] - d[2], SALMON, 1.5)
trace(B2, b2Hz20, d => d[1], RED, 1.6)
legText(B2.root, 641, 402, 'Mean ± Stdev')
legLine(B2.root, 643, 672, 414, '#000', 3); legLine(B2.root, 678, 708, 414, GREY, 1.5); legText(B2.root, 715, 419, 'TBS')
legLine(B2.root, 643, 672, 432, RED, 1.6); legLine(B2.root, 678, 708, 432, SALMON, 1.5); legText(B2.root, 715, 437, '20 Hz')

// C
const C = makePanel({ xd: [-22, 250], xr: [80, 361], yd: [-0.006, 0.7], yr: [1018.3, 740], yticks: ticksC, xpad: 14, timeY: 1074,
  ylabel: '2AG', ylSize: 18.5, ylx: 21.5, letter: ['C', 3, 740] })
band(C, cTBSSpine, GREY)
spikes(C, cTBSSpineSpikes, GREY)
band(C, cHzSpine, PINK)
spikes(C, cHzSpineSpikes, PINK)
band(C, cTBSDend, '#111')
spikes(C, cTBSDendSpikes, '#111')
band(C, cHzDend, RED)
legText(C.root, 188, 749, 'Region', true)
legText(C.root, 284, 749, 'TBS'); legText(C.root, 324.5, 749, '20 Hz')
legText(C.root, 191, 768, 'Dendrite SM'); legText(C.root, 191, 786.5, 'Spine Head')
legLine(C.root, 297, 325, 762.7, '#000', 1.5); legLine(C.root, 328, 358, 762.7, RED, 1.5)
legLine(C.root, 297, 325, 780.7, GREY, 1.5); legLine(C.root, 328, 358, 780.7, PINK, 1.5)

// D
const D = makePanel({ xd: [-24.3, 250], xr: [466.7, 749.3], yd: [-0.017, 2.0], yr: [1008.3, 739.3], yticks: ticksD, xpad: 18, timeY: 1068,
  ylabel: 'Active PKC', ylSize: 14, ylx: 406.5, letter: ['D', 388, 737] })
trace(D, dTBSSpine, d => d[1], GREY, 1.5)
trace(D, dTBSDend, d => d[1], '#000', 1.5)
trace(D, dHzSpine, d => d[1], PINK, 1.5, d3.curveStepAfter)
trace(D, dHzDend, d => d[1], RED, 1.6)
legText(D.root, 592, 755, 'Region', true)
legText(D.root, 676, 755, 'TBS'); legText(D.root, 721, 755, '20 Hz')
legText(D.root, 592, 773.3, 'Dendrite SM'); legText(D.root, 592, 791.7, 'Spine Head')
legLine(D.root, 691, 721, 769, '#000', 1.5); legLine(D.root, 730, 760, 769, RED, 1.5)
legLine(D.root, 691, 721, 787, GREY, 1.5); legLine(D.root, 730, 760, 787, PINK, 1.5)
</script>
</body>
</html>
